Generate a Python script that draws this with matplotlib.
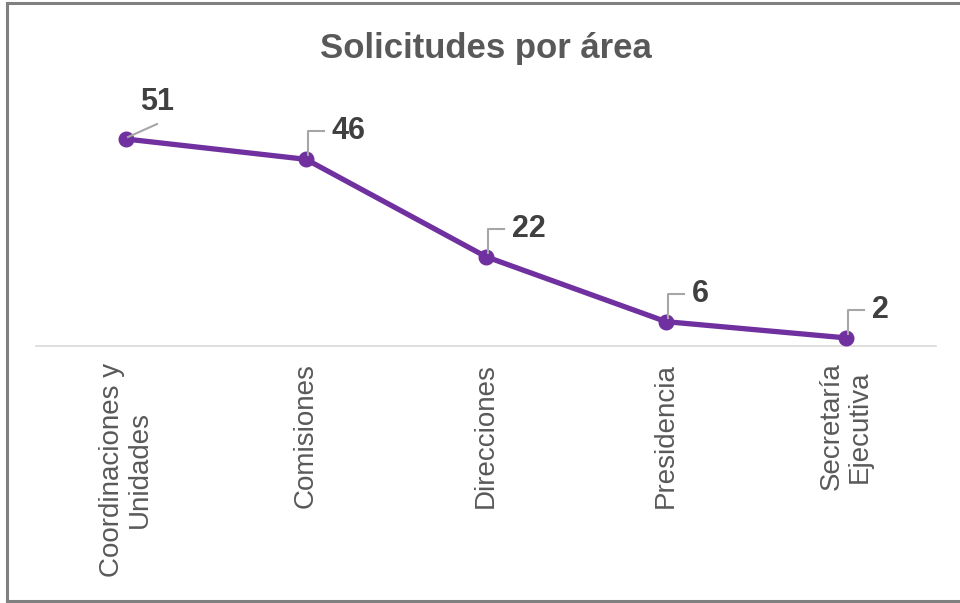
import matplotlib.pyplot as plt
from matplotlib.lines import Line2D

CATEGORIES = ["Coordinaciones y\nUnidades", "Comisiones", "Direcciones",
              "Presidencia", "Secretaría\nEjecutiva"]
VALUES = [51, 46, 22, 6, 2]

PURPLE = "#7030A0"
TEXT_GRAY = "#595959"
LABEL_DARK = "#404040"
LEADER = "#A6A6A6"

plt.rcParams["font.family"] = ["Liberation Sans", "DejaVu Sans"]


def main():
    fig = plt.figure(figsize=(9.6, 6.03), dpi=100)
    ax = fig.add_axes([0.0375, 0.4262, 0.9375, 0.4038])

    x = list(range(len(VALUES)))
    ax.plot(x, VALUES, "-o", color=PURPLE, linewidth=3.8, markersize=10.5,
            solid_capstyle="round", zorder=3)

    ax.set_xlim(-0.5, len(VALUES) - 0.5)
    ax.set_ylim(0, 60)
    ax.set_yticks([])
    for s in ["top", "right", "left"]:
        ax.spines[s].set_visible(False)
    ax.spines["bottom"].set_color("#D9D9D9")
    ax.spines["bottom"].set_linewidth(1.2)
    ax.set_xticks(x)
    ax.set_xticklabels(CATEGORIES, rotation=90, fontsize=20, color=TEXT_GRAY,
                       linespacing=1.1)
    ax.tick_params(axis="x", length=0, pad=12)

    # data labels with leader lines (offsets in pixels from the point)
    for i, v in enumerate(VALUES):
        if i == 0:
            path = [(2, 2), (31, 15)]
            txt_off = (31, 37)
            ha = "center"
        else:
            path = [(2, 4), (2, 28), (18, 28)]
            txt_off = (26, 28)
            ha = "left"
        base = ax.transData.transform((i, v))
        line = Line2D([base[0] + dx for dx, _ in path],
                      [base[1] + dy for _, dy in path],
                      color=LEADER, linewidth=1.5, transform=None, zorder=2)
        fig.add_artist(line)
        ax.annotate(f"{v}", (i, v), xytext=txt_off, textcoords="offset pixels",
                    ha=ha, va="center", fontsize=22, fontweight="bold",
                    color=LABEL_DARK)

    fig.text(0.506, 0.919, "Solicitudes por área", ha="center", va="center",
             fontsize=25, fontweight="bold", color=TEXT_GRAY)

    # outer frame (left, top, bottom)
    frame_kw = dict(color="#808080", linewidth=2.2, transform=fig.transFigure)
    fig.add_artist(Line2D([7 / 960, 7 / 960], [1 - 3 / 603, 1 - 601 / 603], **frame_kw))
    fig.add_artist(Line2D([7 / 960, 1], [1 - 3 / 603, 1 - 3 / 603], **frame_kw))
    fig.add_artist(Line2D([7 / 960, 1], [1 - 601 / 603, 1 - 601 / 603], **frame_kw))

    fig.savefig("out.png", dpi=100)


if __name__ == "__main__":
    main()
